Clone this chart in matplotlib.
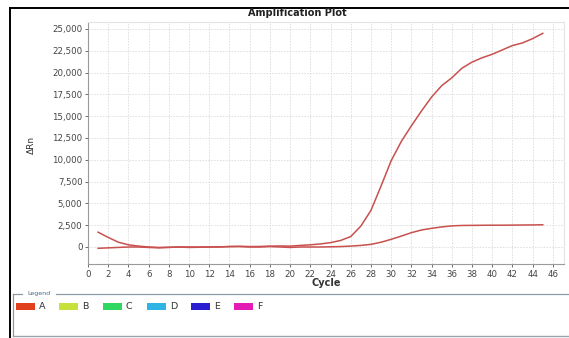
import matplotlib
matplotlib.use("Agg")
import matplotlib.pyplot as plt
from matplotlib.patches import Rectangle
from matplotlib.lines import Line2D
from matplotlib.ticker import FuncFormatter

cycles = list(range(1, 46))
curve_high = [1700, 1100, 550, 250, 100, 0, -50, -30, 0, -50, -30, 0, 20, 50, 80,
              50, 60, 100, 120, 100, 180, 250, 350, 500, 750, 1200, 2400, 4200, 7000, 9900,
              12100, 13900, 15600, 17200, 18500, 19400, 20500, 21200, 21700, 22100,
              22600, 23100, 23400, 23900, 24500]
curve_low = [-150, -100, -50, 0, 0, -50, -100, -50, 0, 0, 0, 0, 0, 50, 50,
             0, 0, 50, 0, -50, 0, 0, 0, 20, 50, 100, 180, 300, 550, 880,
             1250, 1640, 1950, 2140, 2300, 2420, 2470, 2480, 2490, 2500,
             2500, 2510, 2520, 2530, 2550]
x_ticks = list(range(0, 47, 2))
y_ticks = list(range(0, 25001, 2500))
legend_labels = ["A", "B", "C", "D", "E", "F"]
legend_colors = ["#e0401e", "#c8e03c", "#2ed860", "#2eb4e4", "#2a1ed0", "#e21cb4"]

W, H = 569, 338
fig = plt.figure(figsize=(W / 100, H / 100), dpi=100)
fig.patch.set_facecolor("white")

def fx(px):
    return px / W

def fy(py):
    return 1 - py / H

ax = fig.add_axes([fx(88), fy(264), fx(564) - fx(88), fy(22) - fy(264)])
line_color = "#c8504e"
ax.plot(cycles, curve_high, color=line_color, lw=1.1)
ax.plot(cycles, curve_low, color=line_color, lw=1.1)
ax.set_xlim(0, 47.1)
ax.set_ylim(-1950, 25800)
ax.set_xticks(x_ticks)
ax.set_yticks(y_ticks)
ax.yaxis.set_major_formatter(FuncFormatter(lambda v, p: f"{int(v):,}"))
ax.grid(True, color="#dcdcdc", lw=0.6, ls=(0, (2, 1.5)))
ax.set_axisbelow(True)
ax.tick_params(axis="both", labelsize=6.2, colors="#555555", length=2.5, width=0.6,
               labelcolor="#444444", pad=1.5)
for s in ["left", "bottom"]:
    ax.spines[s].set_color("#9a9a9a")
    ax.spines[s].set_linewidth(0.8)
for s in ["top", "right"]:
    ax.spines[s].set_color("#e4e4e4")
    ax.spines[s].set_linewidth(0.8)

fig.text(fx(297), fy(13), "Amplification Plot", ha="center", va="center",
         fontsize=7, color="#222222", fontweight="semibold")
fig.text(fx(326), fy(283), "Cycle", ha="center", va="center",
         fontsize=7, color="#333333", fontweight="bold")
fig.text(fx(31), fy(145), "ΔRn", ha="center", va="center", rotation=90,
         fontsize=6.5, color="#333333")

# outer frame
fig.add_artist(Line2D([fx(10), 1], [fy(8), fy(8)], color="black", lw=1.4))
fig.add_artist(Line2D([fx(10), fx(10)], [fy(8), 0], color="black", lw=1.4))

# legend box
fig.add_artist(Line2D([fx(13), fx(13)], [fy(294), fy(336)], color="#8a9aa4", lw=0.9))
fig.add_artist(Line2D([fx(13), fx(22)], [fy(294), fy(294)], color="#8a9aa4", lw=0.9))
fig.add_artist(Line2D([fx(56), 1], [fy(294), fy(294)], color="#8a9aa4", lw=0.9))
fig.add_artist(Line2D([fx(13), 1], [fy(336), fy(336)], color="#9aa4aa", lw=1.0))
fig.text(fx(39), fy(294), "Legend", ha="center", va="center", fontsize=4.5, color="#4a6a80")

sw_x = [16, 59, 103, 147, 191, 234]
for x0, lab, col in zip(sw_x, legend_labels, legend_colors):
    fig.add_artist(Rectangle((fx(x0), fy(310)), fx(19), fy(303) - fy(310),
                             facecolor=col, edgecolor="none"))
    fig.text(fx(x0 + 23), fy(306.5), lab, ha="left", va="center", fontsize=6.8,
             color="#333333")

fig.savefig("out.png", dpi=100)
